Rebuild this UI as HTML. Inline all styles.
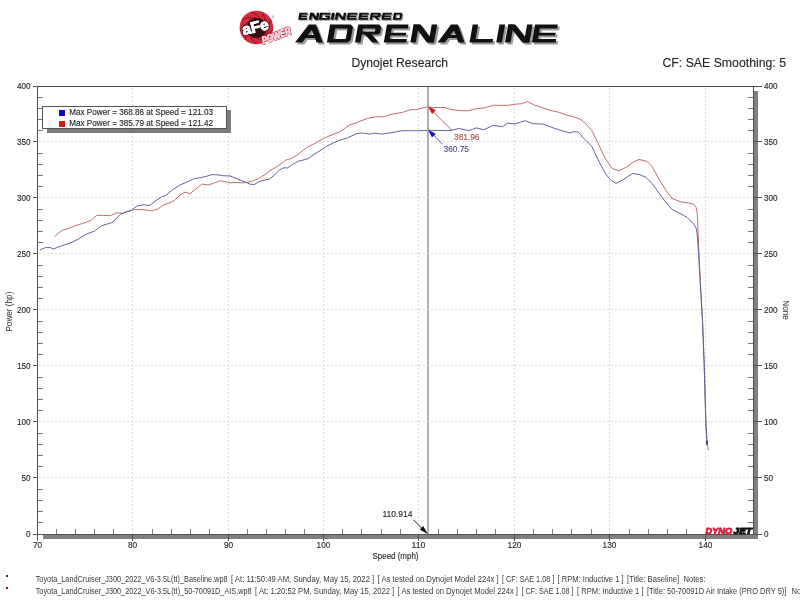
<!DOCTYPE html>
<html><head><meta charset="utf-8"><style>
html,body{margin:0;padding:0;background:#fff;width:800px;height:600px;overflow:hidden}
svg{display:block;font-family:"Liberation Sans", sans-serif;will-change:transform}
</style></head><body>
<svg width="800" height="600" viewBox="0 0 800 600" shape-rendering="crispEdges">
<rect width="800" height="600" fill="#fff"/>
<line x1="38" y1="477.5" x2="753" y2="477.5" stroke="#dadada" stroke-dasharray="2,2" stroke-dashoffset="3"/>
<line x1="38" y1="421.5" x2="753" y2="421.5" stroke="#dadada" stroke-dasharray="2,2" stroke-dashoffset="3"/>
<line x1="38" y1="365.5" x2="753" y2="365.5" stroke="#dadada" stroke-dasharray="2,2" stroke-dashoffset="3"/>
<line x1="38" y1="309.5" x2="753" y2="309.5" stroke="#dadada" stroke-dasharray="2,2" stroke-dashoffset="3"/>
<line x1="38" y1="253.5" x2="753" y2="253.5" stroke="#dadada" stroke-dasharray="2,2" stroke-dashoffset="3"/>
<line x1="38" y1="197.5" x2="753" y2="197.5" stroke="#dadada" stroke-dasharray="2,2" stroke-dashoffset="3"/>
<line x1="38" y1="141.5" x2="753" y2="141.5" stroke="#dadada" stroke-dasharray="2,2" stroke-dashoffset="3"/>
<line x1="132.5" y1="87" x2="132.5" y2="534" stroke="#dadada" stroke-dasharray="2,2" stroke-dashoffset="3"/>
<line x1="228.5" y1="87" x2="228.5" y2="534" stroke="#dadada" stroke-dasharray="2,2" stroke-dashoffset="3"/>
<line x1="323.5" y1="87" x2="323.5" y2="534" stroke="#dadada" stroke-dasharray="2,2" stroke-dashoffset="3"/>
<line x1="418.5" y1="87" x2="418.5" y2="534" stroke="#dadada" stroke-dasharray="2,2" stroke-dashoffset="3"/>
<line x1="514.5" y1="87" x2="514.5" y2="534" stroke="#dadada" stroke-dasharray="2,2" stroke-dashoffset="3"/>
<line x1="609.5" y1="87" x2="609.5" y2="534" stroke="#dadada" stroke-dasharray="2,2" stroke-dashoffset="3"/>
<line x1="705.5" y1="87" x2="705.5" y2="534" stroke="#dadada" stroke-dasharray="2,2" stroke-dashoffset="3"/>
<rect x="754" y="91" width="4" height="448" fill="#808080"/>
<rect x="43" y="535" width="715" height="4" fill="#808080"/>
<rect x="33" y="86" width="729" height="1" fill="#525252"/>
<rect x="33" y="534" width="729" height="1" fill="#525252"/>
<rect x="37" y="86" width="1" height="455" fill="#525252"/>
<rect x="753" y="86" width="1" height="449" fill="#525252"/>
<rect x="38" y="522" width="5" height="1" fill="#747474"/>
<rect x="748" y="522" width="5" height="1" fill="#747474"/>
<rect x="38" y="511" width="5" height="1" fill="#747474"/>
<rect x="748" y="511" width="5" height="1" fill="#747474"/>
<rect x="38" y="500" width="5" height="1" fill="#747474"/>
<rect x="748" y="500" width="5" height="1" fill="#747474"/>
<rect x="38" y="489" width="5" height="1" fill="#747474"/>
<rect x="748" y="489" width="5" height="1" fill="#747474"/>
<rect x="33" y="477" width="4" height="1" fill="#525252"/>
<rect x="754" y="477" width="8" height="1" fill="#525252"/>
<rect x="38" y="466" width="5" height="1" fill="#747474"/>
<rect x="748" y="466" width="5" height="1" fill="#747474"/>
<rect x="38" y="455" width="5" height="1" fill="#747474"/>
<rect x="748" y="455" width="5" height="1" fill="#747474"/>
<rect x="38" y="444" width="5" height="1" fill="#747474"/>
<rect x="748" y="444" width="5" height="1" fill="#747474"/>
<rect x="38" y="433" width="5" height="1" fill="#747474"/>
<rect x="748" y="433" width="5" height="1" fill="#747474"/>
<rect x="33" y="421" width="4" height="1" fill="#525252"/>
<rect x="754" y="421" width="8" height="1" fill="#525252"/>
<rect x="38" y="410" width="5" height="1" fill="#747474"/>
<rect x="748" y="410" width="5" height="1" fill="#747474"/>
<rect x="38" y="399" width="5" height="1" fill="#747474"/>
<rect x="748" y="399" width="5" height="1" fill="#747474"/>
<rect x="38" y="388" width="5" height="1" fill="#747474"/>
<rect x="748" y="388" width="5" height="1" fill="#747474"/>
<rect x="38" y="377" width="5" height="1" fill="#747474"/>
<rect x="748" y="377" width="5" height="1" fill="#747474"/>
<rect x="33" y="365" width="4" height="1" fill="#525252"/>
<rect x="754" y="365" width="8" height="1" fill="#525252"/>
<rect x="38" y="354" width="5" height="1" fill="#747474"/>
<rect x="748" y="354" width="5" height="1" fill="#747474"/>
<rect x="38" y="343" width="5" height="1" fill="#747474"/>
<rect x="748" y="343" width="5" height="1" fill="#747474"/>
<rect x="38" y="332" width="5" height="1" fill="#747474"/>
<rect x="748" y="332" width="5" height="1" fill="#747474"/>
<rect x="38" y="321" width="5" height="1" fill="#747474"/>
<rect x="748" y="321" width="5" height="1" fill="#747474"/>
<rect x="33" y="309" width="4" height="1" fill="#525252"/>
<rect x="754" y="309" width="8" height="1" fill="#525252"/>
<rect x="38" y="298" width="5" height="1" fill="#747474"/>
<rect x="748" y="298" width="5" height="1" fill="#747474"/>
<rect x="38" y="287" width="5" height="1" fill="#747474"/>
<rect x="748" y="287" width="5" height="1" fill="#747474"/>
<rect x="38" y="276" width="5" height="1" fill="#747474"/>
<rect x="748" y="276" width="5" height="1" fill="#747474"/>
<rect x="38" y="265" width="5" height="1" fill="#747474"/>
<rect x="748" y="265" width="5" height="1" fill="#747474"/>
<rect x="33" y="253" width="4" height="1" fill="#525252"/>
<rect x="754" y="253" width="8" height="1" fill="#525252"/>
<rect x="38" y="242" width="5" height="1" fill="#747474"/>
<rect x="748" y="242" width="5" height="1" fill="#747474"/>
<rect x="38" y="231" width="5" height="1" fill="#747474"/>
<rect x="748" y="231" width="5" height="1" fill="#747474"/>
<rect x="38" y="220" width="5" height="1" fill="#747474"/>
<rect x="748" y="220" width="5" height="1" fill="#747474"/>
<rect x="38" y="209" width="5" height="1" fill="#747474"/>
<rect x="748" y="209" width="5" height="1" fill="#747474"/>
<rect x="33" y="197" width="4" height="1" fill="#525252"/>
<rect x="754" y="197" width="8" height="1" fill="#525252"/>
<rect x="38" y="186" width="5" height="1" fill="#747474"/>
<rect x="748" y="186" width="5" height="1" fill="#747474"/>
<rect x="38" y="175" width="5" height="1" fill="#747474"/>
<rect x="748" y="175" width="5" height="1" fill="#747474"/>
<rect x="38" y="164" width="5" height="1" fill="#747474"/>
<rect x="748" y="164" width="5" height="1" fill="#747474"/>
<rect x="38" y="153" width="5" height="1" fill="#747474"/>
<rect x="748" y="153" width="5" height="1" fill="#747474"/>
<rect x="33" y="141" width="4" height="1" fill="#525252"/>
<rect x="754" y="141" width="8" height="1" fill="#525252"/>
<rect x="38" y="130" width="5" height="1" fill="#747474"/>
<rect x="748" y="130" width="5" height="1" fill="#747474"/>
<rect x="38" y="119" width="5" height="1" fill="#747474"/>
<rect x="748" y="119" width="5" height="1" fill="#747474"/>
<rect x="38" y="108" width="5" height="1" fill="#747474"/>
<rect x="748" y="108" width="5" height="1" fill="#747474"/>
<rect x="38" y="97" width="5" height="1" fill="#747474"/>
<rect x="748" y="97" width="5" height="1" fill="#747474"/>
<rect x="56" y="529" width="1" height="5" fill="#747474"/>
<rect x="75" y="529" width="1" height="5" fill="#747474"/>
<rect x="94" y="529" width="1" height="5" fill="#747474"/>
<rect x="113" y="529" width="1" height="5" fill="#747474"/>
<rect x="132" y="535" width="1" height="6" fill="#525252"/>
<rect x="152" y="529" width="1" height="5" fill="#747474"/>
<rect x="171" y="529" width="1" height="5" fill="#747474"/>
<rect x="190" y="529" width="1" height="5" fill="#747474"/>
<rect x="209" y="529" width="1" height="5" fill="#747474"/>
<rect x="228" y="535" width="1" height="6" fill="#525252"/>
<rect x="247" y="529" width="1" height="5" fill="#747474"/>
<rect x="266" y="529" width="1" height="5" fill="#747474"/>
<rect x="285" y="529" width="1" height="5" fill="#747474"/>
<rect x="304" y="529" width="1" height="5" fill="#747474"/>
<rect x="323" y="535" width="1" height="6" fill="#525252"/>
<rect x="342" y="529" width="1" height="5" fill="#747474"/>
<rect x="361" y="529" width="1" height="5" fill="#747474"/>
<rect x="381" y="529" width="1" height="5" fill="#747474"/>
<rect x="400" y="529" width="1" height="5" fill="#747474"/>
<rect x="418" y="535" width="1" height="6" fill="#525252"/>
<rect x="438" y="529" width="1" height="5" fill="#747474"/>
<rect x="457" y="529" width="1" height="5" fill="#747474"/>
<rect x="476" y="529" width="1" height="5" fill="#747474"/>
<rect x="495" y="529" width="1" height="5" fill="#747474"/>
<rect x="514" y="535" width="1" height="6" fill="#525252"/>
<rect x="533" y="529" width="1" height="5" fill="#747474"/>
<rect x="552" y="529" width="1" height="5" fill="#747474"/>
<rect x="571" y="529" width="1" height="5" fill="#747474"/>
<rect x="591" y="529" width="1" height="5" fill="#747474"/>
<rect x="609" y="535" width="1" height="6" fill="#525252"/>
<rect x="629" y="529" width="1" height="5" fill="#747474"/>
<rect x="648" y="529" width="1" height="5" fill="#747474"/>
<rect x="667" y="529" width="1" height="5" fill="#747474"/>
<rect x="686" y="529" width="1" height="5" fill="#747474"/>
<rect x="705" y="535" width="1" height="6" fill="#525252"/>
<rect x="724" y="529" width="1" height="5" fill="#747474"/>
<rect x="743" y="529" width="1" height="5" fill="#747474"/>
<text x="30.6" y="536.5" font-size="9" fill="#2a2a2a" stroke="#2a2a2a" stroke-width="0.15" text-anchor="end" textLength="4.5" lengthAdjust="spacingAndGlyphs" style="white-space:pre">0</text>
<text x="764.0" y="536.5" font-size="9" fill="#2a2a2a" stroke="#2a2a2a" stroke-width="0.15" textLength="4.5" lengthAdjust="spacingAndGlyphs" style="white-space:pre">0</text>
<text x="30.6" y="480.5" font-size="9" fill="#2a2a2a" stroke="#2a2a2a" stroke-width="0.15" text-anchor="end" textLength="9.1" lengthAdjust="spacingAndGlyphs" style="white-space:pre">50</text>
<text x="764.0" y="480.5" font-size="9" fill="#2a2a2a" stroke="#2a2a2a" stroke-width="0.15" textLength="9.1" lengthAdjust="spacingAndGlyphs" style="white-space:pre">50</text>
<text x="30.6" y="424.5" font-size="9" fill="#2a2a2a" stroke="#2a2a2a" stroke-width="0.15" text-anchor="end" textLength="13.6" lengthAdjust="spacingAndGlyphs" style="white-space:pre">100</text>
<text x="764.0" y="424.5" font-size="9" fill="#2a2a2a" stroke="#2a2a2a" stroke-width="0.15" textLength="13.6" lengthAdjust="spacingAndGlyphs" style="white-space:pre">100</text>
<text x="30.6" y="368.5" font-size="9" fill="#2a2a2a" stroke="#2a2a2a" stroke-width="0.15" text-anchor="end" textLength="13.6" lengthAdjust="spacingAndGlyphs" style="white-space:pre">150</text>
<text x="764.0" y="368.5" font-size="9" fill="#2a2a2a" stroke="#2a2a2a" stroke-width="0.15" textLength="13.6" lengthAdjust="spacingAndGlyphs" style="white-space:pre">150</text>
<text x="30.6" y="312.5" font-size="9" fill="#2a2a2a" stroke="#2a2a2a" stroke-width="0.15" text-anchor="end" textLength="13.6" lengthAdjust="spacingAndGlyphs" style="white-space:pre">200</text>
<text x="764.0" y="312.5" font-size="9" fill="#2a2a2a" stroke="#2a2a2a" stroke-width="0.15" textLength="13.6" lengthAdjust="spacingAndGlyphs" style="white-space:pre">200</text>
<text x="30.6" y="256.5" font-size="9" fill="#2a2a2a" stroke="#2a2a2a" stroke-width="0.15" text-anchor="end" textLength="13.6" lengthAdjust="spacingAndGlyphs" style="white-space:pre">250</text>
<text x="764.0" y="256.5" font-size="9" fill="#2a2a2a" stroke="#2a2a2a" stroke-width="0.15" textLength="13.6" lengthAdjust="spacingAndGlyphs" style="white-space:pre">250</text>
<text x="30.6" y="200.5" font-size="9" fill="#2a2a2a" stroke="#2a2a2a" stroke-width="0.15" text-anchor="end" textLength="13.6" lengthAdjust="spacingAndGlyphs" style="white-space:pre">300</text>
<text x="764.0" y="200.5" font-size="9" fill="#2a2a2a" stroke="#2a2a2a" stroke-width="0.15" textLength="13.6" lengthAdjust="spacingAndGlyphs" style="white-space:pre">300</text>
<text x="30.6" y="144.5" font-size="9" fill="#2a2a2a" stroke="#2a2a2a" stroke-width="0.15" text-anchor="end" textLength="13.6" lengthAdjust="spacingAndGlyphs" style="white-space:pre">350</text>
<text x="764.0" y="144.5" font-size="9" fill="#2a2a2a" stroke="#2a2a2a" stroke-width="0.15" textLength="13.6" lengthAdjust="spacingAndGlyphs" style="white-space:pre">350</text>
<text x="30.6" y="88.5" font-size="9" fill="#2a2a2a" stroke="#2a2a2a" stroke-width="0.15" text-anchor="end" textLength="13.6" lengthAdjust="spacingAndGlyphs" style="white-space:pre">400</text>
<text x="764.0" y="88.5" font-size="9" fill="#2a2a2a" stroke="#2a2a2a" stroke-width="0.15" textLength="13.6" lengthAdjust="spacingAndGlyphs" style="white-space:pre">400</text>
<text x="37.5" y="548.2" font-size="9" fill="#2a2a2a" stroke="#2a2a2a" stroke-width="0.15" text-anchor="middle" textLength="9.2" lengthAdjust="spacingAndGlyphs" style="white-space:pre">70</text>
<text x="132.5" y="548.2" font-size="9" fill="#2a2a2a" stroke="#2a2a2a" stroke-width="0.15" text-anchor="middle" textLength="9.2" lengthAdjust="spacingAndGlyphs" style="white-space:pre">80</text>
<text x="228.5" y="548.2" font-size="9" fill="#2a2a2a" stroke="#2a2a2a" stroke-width="0.15" text-anchor="middle" textLength="9.2" lengthAdjust="spacingAndGlyphs" style="white-space:pre">90</text>
<text x="323.5" y="548.2" font-size="9" fill="#2a2a2a" stroke="#2a2a2a" stroke-width="0.15" text-anchor="middle" textLength="13.8" lengthAdjust="spacingAndGlyphs" style="white-space:pre">100</text>
<text x="418.5" y="548.2" font-size="9" fill="#2a2a2a" stroke="#2a2a2a" stroke-width="0.15" text-anchor="middle" textLength="13.8" lengthAdjust="spacingAndGlyphs" style="white-space:pre">110</text>
<text x="514.5" y="548.2" font-size="9" fill="#2a2a2a" stroke="#2a2a2a" stroke-width="0.15" text-anchor="middle" textLength="13.8" lengthAdjust="spacingAndGlyphs" style="white-space:pre">120</text>
<text x="609.5" y="548.2" font-size="9" fill="#2a2a2a" stroke="#2a2a2a" stroke-width="0.15" text-anchor="middle" textLength="13.8" lengthAdjust="spacingAndGlyphs" style="white-space:pre">130</text>
<text x="705.5" y="548.2" font-size="9" fill="#2a2a2a" stroke="#2a2a2a" stroke-width="0.15" text-anchor="middle" textLength="13.8" lengthAdjust="spacingAndGlyphs" style="white-space:pre">140</text>
<text x="395.5" y="559.3" font-size="8.5" fill="#2a2a2a" stroke="#2a2a2a" stroke-width="0.15" text-anchor="middle" textLength="46.0" lengthAdjust="spacingAndGlyphs" style="white-space:pre">Speed (mph)</text>
<text transform="translate(11.8,311.6) rotate(-90)" text-anchor="middle" font-size="8.5" fill="#2a2a2a" textLength="40" lengthAdjust="spacingAndGlyphs">Power (hp)</text>
<text transform="translate(783.4,310) rotate(90)" text-anchor="middle" font-size="8.5" fill="#2a2a2a" textLength="19.5" lengthAdjust="spacingAndGlyphs">None</text>
<path d="M54.7,236.7 L58.3,233.4 L62.5,230.1 L66.7,229.1 L75.0,225.9 L85.0,222.6 L90.8,220.4 L96.7,215.4 L103.3,215.4 L110.0,215.7 L116.7,212.9 L122.5,213.1 L128.3,211.2 L132.5,210.1 L134.2,209.6 L143.3,209.6 L151.7,210.9 L157.5,209.1 L163.3,205.1 L168.3,203.4 L174.2,200.7 L180.0,195.1 L185.0,192.1 L190.0,193.7 L195.8,189.1 L201.7,184.1 L208.3,184.9 L213.3,183.4 L220.0,180.7 L225.0,181.7 L230.0,182.9 L235.0,182.4 L241.7,182.9 L247.5,182.4 L253.3,180.7 L258.3,178.7 L265.0,174.6 L270.0,170.7 L275.0,167.9 L280.0,164.6 L285.8,160.1 L291.7,158.4 L296.7,155.4 L302.5,150.7 L308.3,146.7 L315.0,143.4 L320.0,140.4 L325.8,137.4 L332.5,134.6 L341.7,130.9 L350.0,124.6 L355.0,123.4 L360.0,121.2 L367.5,118.4 L376.7,116.7 L384.2,116.7 L390.0,114.6 L396.7,113.4 L403.3,112.1 L410.8,109.6 L416.7,109.6 L427.5,106.9 L432.5,107.5 L445.0,107.5 L450.0,109.4 L461.2,110.7 L468.8,110.7 L475.0,108.9 L483.8,107.9 L493.8,105.2 L500.0,105.4 L507.5,105.4 L515.0,104.2 L521.7,103.7 L527.5,101.7 L535.0,105.4 L543.3,107.9 L550.0,110.4 L558.3,112.1 L566.7,115.1 L573.3,116.7 L580.0,119.1 L585.0,122.9 L591.7,130.4 L598.3,143.7 L603.3,154.6 L606.0,159.4 L612.0,168.4 L619.0,170.8 L626.0,167.4 L633.0,162.4 L639.0,159.4 L647.0,161.4 L652.0,166.4 L658.0,177.4 L666.0,190.4 L672.0,198.4 L680.0,201.6 L689.3,203.2 L694.0,204.4 L696.4,207.9 L697.5,216.1 L698.7,248.8 L701.0,295.4 L702.5,320.4 L704.2,364.8 L705.8,420.9 L707.0,441.9 L708.4,450.3" fill="none" stroke="#b86868" stroke-width="0.95" shape-rendering="auto"/>
<path d="M40.0,250.2 L41.9,249.0 L45.6,247.6 L50.6,247.6 L53.1,249.0 L56.9,247.6 L61.9,245.7 L67.5,244.0 L72.5,242.0 L78.8,238.8 L84.4,235.4 L88.3,233.4 L94.2,231.2 L97.5,228.7 L101.7,225.7 L106.7,224.2 L112.5,222.4 L116.7,217.9 L120.8,214.2 L125.0,212.4 L131.7,210.4 L133.3,208.7 L137.5,205.7 L140.8,205.4 L144.2,204.6 L146.7,205.4 L150.0,205.4 L155.0,201.2 L161.7,196.7 L165.8,195.4 L171.7,190.4 L179.2,185.4 L186.7,182.1 L194.2,178.7 L201.7,177.4 L206.7,176.2 L211.7,174.6 L218.3,174.9 L222.5,175.7 L230.0,175.9 L235.0,177.9 L241.7,180.7 L250.0,184.1 L254.2,184.6 L260.0,181.2 L265.0,180.1 L269.2,179.1 L274.2,175.4 L279.2,170.1 L283.3,167.9 L287.5,167.9 L293.3,164.1 L298.3,161.2 L305.0,159.6 L308.3,158.4 L315.0,153.7 L320.0,150.7 L326.7,146.2 L335.0,142.1 L341.7,139.6 L347.5,137.9 L356.7,133.7 L361.7,132.9 L370.0,134.1 L375.0,133.1 L381.7,134.1 L388.3,133.2 L395.0,132.1 L401.7,130.7 L408.3,130.7 L420.0,130.7 L427.5,130.4 L437.5,130.4 L450.0,130.7 L458.8,128.5 L468.8,130.7 L476.2,127.9 L483.8,129.8 L493.1,125.4 L502.5,126.7 L507.5,123.2 L515.0,123.9 L525.0,120.7 L533.3,123.7 L543.3,124.1 L553.3,127.9 L563.3,131.2 L570.0,132.9 L573.3,131.7 L578.3,132.1 L583.3,137.9 L591.7,146.2 L600.0,163.7 L606.0,174.4 L611.0,180.4 L616.0,183.4 L622.0,180.4 L628.0,176.4 L633.0,173.4 L640.0,174.8 L646.0,177.4 L652.0,183.4 L660.0,194.4 L666.0,202.4 L672.0,209.4 L680.0,213.4 L687.0,217.3 L694.0,224.3 L696.4,228.9 L697.5,237.1 L698.7,255.8 L701.0,295.4 L702.5,320.4 L704.2,364.8 L705.8,420.9 L707.1,444.7" fill="none" stroke="#5a5a98" stroke-width="0.95" shape-rendering="auto"/>
<ellipse cx="706.9" cy="442.8" rx="0.9" ry="2.2" fill="#3a3a90" shape-rendering="auto"/>
<rect x="427" y="87" width="2" height="447" fill="#b0b0b0"/>
<line x1="452" y1="130.3" x2="433" y2="111.5" stroke="#b86868" stroke-width="1" shape-rendering="auto"/>
<path d="M428,106.2 L435.8,110.3 L432,114 Z" fill="#d41414" shape-rendering="auto"/>
<line x1="442.5" y1="144.2" x2="433" y2="134.5" stroke="#5a5a98" stroke-width="1" shape-rendering="auto"/>
<path d="M428,129.8 L435.8,133.8 L432,137.5 Z" fill="#1414c8" shape-rendering="auto"/>
<text x="454.0" y="139.5" font-size="8.5" fill="#b05050" stroke="#b05050" stroke-width="0.15" textLength="25.5" lengthAdjust="spacingAndGlyphs" style="white-space:pre">381.96</text>
<text x="443.5" y="152.0" font-size="8.5" fill="#505090" stroke="#505090" stroke-width="0.15" textLength="25.5" lengthAdjust="spacingAndGlyphs" style="white-space:pre">360.75</text>
<text x="382.5" y="517.0" font-size="8.5" fill="#2a2a2a" stroke="#2a2a2a" stroke-width="0.15" textLength="30.0" lengthAdjust="spacingAndGlyphs" style="white-space:pre">110.914</text>
<line x1="413.5" y1="519.8" x2="422" y2="528.5" stroke="#222" stroke-width="1" shape-rendering="auto"/>
<path d="M428,534.2 L419.8,529.6 L423.2,526 Z" fill="#111" shape-rendering="auto"/>
<rect x="47" y="110" width="184" height="23" fill="#7a7a7a"/>
<rect x="42.5" y="106.5" width="184" height="22" fill="#fff" stroke="#555"/>
<rect x="59" y="110" width="6" height="6" fill="#0a0ac8"/>
<rect x="59" y="121" width="6" height="6" fill="#d01818"/>
<text x="69.2" y="114.9" font-size="8.5" fill="#2a2a2a" stroke="#2a2a2a" stroke-width="0.15" textLength="143.8" lengthAdjust="spacingAndGlyphs" style="white-space:pre">Max Power = 368.86 at Speed = 121.03</text>
<text x="69.2" y="125.9" font-size="8.5" fill="#2a2a2a" stroke="#2a2a2a" stroke-width="0.15" textLength="143.8" lengthAdjust="spacingAndGlyphs" style="white-space:pre">Max Power = 385.79 at Speed = 121.42</text>
<text x="705.6" y="533.6" font-size="9.4" font-weight="bold" font-style="italic" fill="#d42a40" stroke="#d42a40" stroke-width="1.0" stroke-linejoin="round" textLength="26.4" lengthAdjust="spacingAndGlyphs" shape-rendering="auto">DYNO</text>
<text x="733.6" y="533.6" font-size="9.4" font-weight="bold" font-style="italic" fill="#111" stroke="#111" stroke-width="1.1" stroke-linejoin="round" textLength="18.4" lengthAdjust="spacingAndGlyphs" shape-rendering="auto">JET</text>
<text x="351.5" y="66.6" font-size="12.5" fill="#222" stroke="#222" stroke-width="0.1" textLength="96.5" lengthAdjust="spacingAndGlyphs" style="white-space:pre">Dynojet Research</text>
<text x="662.5" y="67.1" font-size="12.5" fill="#222" stroke="#222" stroke-width="0.1" textLength="123.5" lengthAdjust="spacingAndGlyphs" style="white-space:pre">CF: SAE Smoothing: 5</text>
<rect x="6" y="574.5" width="2" height="2" fill="#202080"/>
<rect x="6" y="586.5" width="2" height="2" fill="#802020"/>
<text x="35.7" y="582.3" font-size="8.5" fill="#383838" stroke="#383838" stroke-width="0" textLength="191.9" lengthAdjust="spacingAndGlyphs" style="white-space:pre">Toyota_LandCruiser_J300_2022_V6-3.5L(tt)_Baseline.wp8</text>
<text x="231.0" y="582.3" font-size="8.5" fill="#383838" stroke="#383838" stroke-width="0" textLength="143.2" lengthAdjust="spacingAndGlyphs" style="white-space:pre">[ At: 11:50:49 AM, Sunday, May 15, 2022 ]</text>
<text x="377.6" y="582.3" font-size="8.5" fill="#383838" stroke="#383838" stroke-width="0" textLength="121.0" lengthAdjust="spacingAndGlyphs" style="white-space:pre">[ As tested on Dynojet Model 224x ]</text>
<text x="502.0" y="582.3" font-size="8.5" fill="#383838" stroke="#383838" stroke-width="0" textLength="52.2" lengthAdjust="spacingAndGlyphs" style="white-space:pre">[ CF: SAE 1.08 ]</text>
<text x="557.6" y="582.3" font-size="8.5" fill="#383838" stroke="#383838" stroke-width="0" textLength="66.0" lengthAdjust="spacingAndGlyphs" style="white-space:pre">[ RPM: Inductive 1 ]</text>
<text x="627.0" y="582.3" font-size="8.5" fill="#383838" stroke="#383838" stroke-width="0" textLength="52.1" lengthAdjust="spacingAndGlyphs" style="white-space:pre">[Title: Baseline]</text>
<text x="683.5" y="582.3" font-size="8.5" fill="#383838" stroke="#383838" stroke-width="0" textLength="21.9" lengthAdjust="spacingAndGlyphs" style="white-space:pre">Notes:</text>
<text x="35.7" y="593.5" font-size="8.5" fill="#383838" stroke="#383838" stroke-width="0" textLength="216.0" lengthAdjust="spacingAndGlyphs" style="white-space:pre">Toyota_LandCruiser_J300_2022_V6-3.5L(tt)_50-70091D_AIS.wp8</text>
<text x="255.1" y="593.5" font-size="8.5" fill="#383838" stroke="#383838" stroke-width="0" textLength="139.1" lengthAdjust="spacingAndGlyphs" style="white-space:pre">[ At: 1:20:52 PM, Sunday, May 15, 2022 ]</text>
<text x="397.6" y="593.5" font-size="8.5" fill="#383838" stroke="#383838" stroke-width="0" textLength="120.4" lengthAdjust="spacingAndGlyphs" style="white-space:pre">[ As tested on Dynojet Model 224x ]</text>
<text x="521.4" y="593.5" font-size="8.5" fill="#383838" stroke="#383838" stroke-width="0" textLength="52.2" lengthAdjust="spacingAndGlyphs" style="white-space:pre">[ CF: SAE 1.08 ]</text>
<text x="577.0" y="593.5" font-size="8.5" fill="#383838" stroke="#383838" stroke-width="0" textLength="66.6" lengthAdjust="spacingAndGlyphs" style="white-space:pre">[ RPM: Inductive 1 ]</text>
<text x="647.0" y="593.5" font-size="8.5" fill="#383838" stroke="#383838" stroke-width="0" textLength="139.4" lengthAdjust="spacingAndGlyphs" style="white-space:pre">[Title: 50-70091D Air Intake (PRO DRY 5)]</text>
<text x="791.5" y="593.5" font-size="8.5" fill="#383838" stroke="#383838" stroke-width="0" textLength="21.9" lengthAdjust="spacingAndGlyphs" style="white-space:pre">Notes:</text>
<defs><filter id="lsh" x="-5%" y="-20%" width="110%" height="140%"><feGaussianBlur stdDeviation="0.7"/></filter></defs>
<g fill="#9a9a9a" transform="translate(2.0,2.0)" filter="url(#lsh)" shape-rendering="auto"><path d="M295.00,42.40 L308.77,24.60 L316.00,24.60 L322.80,42.40ZM308.02,35.00 L313.77,35.00 L311.87,30.03ZM305.63,38.10 L314.96,38.10 L316.62,42.42 L302.28,42.42Z" fill-rule="evenodd"/><path d="M330.10,24.60 L350.90,24.60 L352.95,27.10 L350.65,39.90 L347.70,42.40 L326.90,42.40ZM335.20,28.50 L347.60,28.50 L345.73,38.90 L333.33,38.90Z" fill-rule="evenodd"/><path d="M358.20,24.60 L379.17,24.60 L381.22,27.10 L380.14,33.10 L378.37,34.60 L361.90,34.60 L360.50,42.40 L355.00,42.40ZM363.00,28.50 L375.47,28.50 L374.93,31.50 L362.46,31.50Z" fill-rule="evenodd"/><path d="M364.49,34.00 L371.36,34.00 L378.70,42.40 L372.17,42.40Z" fill-rule="evenodd"/><path d="M386.95,24.60 L408.55,24.60 L407.85,28.50 L391.75,28.50 L391.00,32.70 L406.42,32.70 L405.90,35.60 L390.47,35.60 L389.88,38.90 L406.88,38.90 L406.25,42.40 L383.75,42.40Z" fill-rule="evenodd"/><path d="M413.50,24.60 L419.00,24.60 L415.80,42.40 L410.30,42.40Z" fill-rule="evenodd"/><path d="M431.70,24.60 L437.20,24.60 L434.00,42.40 L428.50,42.40Z" fill-rule="evenodd"/><path d="M413.50,24.60 L420.65,24.60 L434.00,42.40 L426.85,42.40Z" fill-rule="evenodd"/><path d="M437.60,42.40 L451.03,24.60 L458.02,24.60 L464.50,42.40ZM450.48,35.00 L455.61,35.00 L453.94,30.42ZM448.14,38.10 L456.73,38.10 L458.32,42.42 L444.88,42.42Z" fill-rule="evenodd"/><path d="M472.70,24.60 L478.20,24.60 L475.63,38.90 L493.13,38.90 L492.50,42.40 L469.50,42.40Z" fill-rule="evenodd"/><path d="M499.45,24.60 L505.10,24.60 L501.90,42.40 L496.25,42.40Z" fill-rule="evenodd"/><path d="M508.20,24.60 L513.70,24.60 L510.50,42.40 L505.00,42.40Z" fill-rule="evenodd"/><path d="M527.10,24.60 L532.60,24.60 L529.40,42.40 L523.90,42.40Z" fill-rule="evenodd"/><path d="M508.20,24.60 L515.35,24.60 L529.40,42.40 L522.25,42.40Z" fill-rule="evenodd"/><path d="M535.10,24.60 L557.86,24.60 L557.15,28.50 L539.90,28.50 L539.15,32.70 L555.69,32.70 L555.17,35.60 L538.62,35.60 L538.03,38.90 L556.23,38.90 L555.60,42.40 L531.90,42.40Z" fill-rule="evenodd"/></g>
<g fill="#111" shape-rendering="auto"><path d="M295.00,42.40 L308.77,24.60 L316.00,24.60 L322.80,42.40ZM308.02,35.00 L313.77,35.00 L311.87,30.03ZM305.63,38.10 L314.96,38.10 L316.62,42.42 L302.28,42.42Z" fill-rule="evenodd"/><path d="M330.10,24.60 L350.90,24.60 L352.95,27.10 L350.65,39.90 L347.70,42.40 L326.90,42.40ZM335.20,28.50 L347.60,28.50 L345.73,38.90 L333.33,38.90Z" fill-rule="evenodd"/><path d="M358.20,24.60 L379.17,24.60 L381.22,27.10 L380.14,33.10 L378.37,34.60 L361.90,34.60 L360.50,42.40 L355.00,42.40ZM363.00,28.50 L375.47,28.50 L374.93,31.50 L362.46,31.50Z" fill-rule="evenodd"/><path d="M364.49,34.00 L371.36,34.00 L378.70,42.40 L372.17,42.40Z" fill-rule="evenodd"/><path d="M386.95,24.60 L408.55,24.60 L407.85,28.50 L391.75,28.50 L391.00,32.70 L406.42,32.70 L405.90,35.60 L390.47,35.60 L389.88,38.90 L406.88,38.90 L406.25,42.40 L383.75,42.40Z" fill-rule="evenodd"/><path d="M413.50,24.60 L419.00,24.60 L415.80,42.40 L410.30,42.40Z" fill-rule="evenodd"/><path d="M431.70,24.60 L437.20,24.60 L434.00,42.40 L428.50,42.40Z" fill-rule="evenodd"/><path d="M413.50,24.60 L420.65,24.60 L434.00,42.40 L426.85,42.40Z" fill-rule="evenodd"/><path d="M437.60,42.40 L451.03,24.60 L458.02,24.60 L464.50,42.40ZM450.48,35.00 L455.61,35.00 L453.94,30.42ZM448.14,38.10 L456.73,38.10 L458.32,42.42 L444.88,42.42Z" fill-rule="evenodd"/><path d="M472.70,24.60 L478.20,24.60 L475.63,38.90 L493.13,38.90 L492.50,42.40 L469.50,42.40Z" fill-rule="evenodd"/><path d="M499.45,24.60 L505.10,24.60 L501.90,42.40 L496.25,42.40Z" fill-rule="evenodd"/><path d="M508.20,24.60 L513.70,24.60 L510.50,42.40 L505.00,42.40Z" fill-rule="evenodd"/><path d="M527.10,24.60 L532.60,24.60 L529.40,42.40 L523.90,42.40Z" fill-rule="evenodd"/><path d="M508.20,24.60 L515.35,24.60 L529.40,42.40 L522.25,42.40Z" fill-rule="evenodd"/><path d="M535.10,24.60 L557.86,24.60 L557.15,28.50 L539.90,28.50 L539.15,32.70 L555.69,32.70 L555.17,35.60 L538.62,35.60 L538.03,38.90 L556.23,38.90 L555.60,42.40 L531.90,42.40Z" fill-rule="evenodd"/></g>
<g fill="#9a9a9a" transform="translate(1.2,1.2)" filter="url(#lsh)" shape-rendering="auto"><path d="M299.47,12.80 L307.73,12.80 L307.41,14.40 L301.65,14.40 L301.45,15.40 L306.95,15.40 L306.62,17.05 L301.12,17.05 L300.92,18.05 L307.02,18.05 L306.70,19.65 L298.10,19.65Z" fill-rule="evenodd"/><path d="M310.12,12.80 L312.62,12.80 L311.25,19.65 L308.75,19.65Z" fill-rule="evenodd"/><path d="M316.87,12.80 L319.37,12.80 L318.00,19.65 L315.50,19.65Z" fill-rule="evenodd"/><path d="M310.12,12.80 L313.37,12.80 L318.00,19.65 L314.75,19.65Z" fill-rule="evenodd"/><path d="M320.07,12.80 L330.67,12.80 L330.35,14.40 L322.25,14.40 L321.52,18.05 L327.12,18.05 L327.32,17.05 L325.05,17.05 L325.38,15.40 L330.15,15.40 L329.30,19.65 L318.70,19.65Z" fill-rule="evenodd"/><path d="M332.07,12.80 L334.77,12.80 L333.40,19.65 L330.70,19.65Z" fill-rule="evenodd"/><path d="M336.17,12.80 L338.67,12.80 L337.30,19.65 L334.80,19.65Z" fill-rule="evenodd"/><path d="M343.77,12.80 L346.27,12.80 L344.90,19.65 L342.40,19.65Z" fill-rule="evenodd"/><path d="M336.17,12.80 L339.42,12.80 L344.90,19.65 L341.65,19.65Z" fill-rule="evenodd"/><path d="M347.87,12.80 L357.47,12.80 L357.15,14.40 L350.05,14.40 L349.85,15.40 L356.65,15.40 L356.32,17.05 L349.52,17.05 L349.32,18.05 L356.82,18.05 L356.50,19.65 L346.50,19.65Z" fill-rule="evenodd"/><path d="M359.47,12.80 L368.88,12.80 L368.56,14.40 L361.65,14.40 L361.45,15.40 L368.06,15.40 L367.73,17.05 L361.12,17.05 L360.92,18.05 L368.22,18.05 L367.90,19.65 L358.10,19.65Z" fill-rule="evenodd"/><path d="M370.87,12.80 L380.07,12.80 L380.87,13.80 L380.34,16.45 L379.62,17.05 L372.52,17.05 L372.00,19.65 L369.50,19.65ZM373.05,14.40 L378.25,14.40 L378.05,15.40 L372.85,15.40Z" fill-rule="evenodd"/><path d="M373.76,16.45 L376.89,16.45 L379.80,19.65 L376.83,19.65Z" fill-rule="evenodd"/><path d="M382.67,12.80 L391.89,12.80 L391.57,14.40 L384.85,14.40 L384.65,15.40 L391.08,15.40 L390.75,17.05 L384.32,17.05 L384.12,18.05 L391.22,18.05 L390.90,19.65 L381.30,19.65Z" fill-rule="evenodd"/><path d="M393.97,12.80 L401.57,12.80 L402.37,13.80 L401.40,18.65 L400.20,19.65 L392.60,19.65ZM396.15,14.40 L400.05,14.40 L399.32,18.05 L395.42,18.05Z" fill-rule="evenodd"/></g>
<g fill="#111" shape-rendering="auto"><path d="M299.47,12.80 L307.73,12.80 L307.41,14.40 L301.65,14.40 L301.45,15.40 L306.95,15.40 L306.62,17.05 L301.12,17.05 L300.92,18.05 L307.02,18.05 L306.70,19.65 L298.10,19.65Z" fill-rule="evenodd"/><path d="M310.12,12.80 L312.62,12.80 L311.25,19.65 L308.75,19.65Z" fill-rule="evenodd"/><path d="M316.87,12.80 L319.37,12.80 L318.00,19.65 L315.50,19.65Z" fill-rule="evenodd"/><path d="M310.12,12.80 L313.37,12.80 L318.00,19.65 L314.75,19.65Z" fill-rule="evenodd"/><path d="M320.07,12.80 L330.67,12.80 L330.35,14.40 L322.25,14.40 L321.52,18.05 L327.12,18.05 L327.32,17.05 L325.05,17.05 L325.38,15.40 L330.15,15.40 L329.30,19.65 L318.70,19.65Z" fill-rule="evenodd"/><path d="M332.07,12.80 L334.77,12.80 L333.40,19.65 L330.70,19.65Z" fill-rule="evenodd"/><path d="M336.17,12.80 L338.67,12.80 L337.30,19.65 L334.80,19.65Z" fill-rule="evenodd"/><path d="M343.77,12.80 L346.27,12.80 L344.90,19.65 L342.40,19.65Z" fill-rule="evenodd"/><path d="M336.17,12.80 L339.42,12.80 L344.90,19.65 L341.65,19.65Z" fill-rule="evenodd"/><path d="M347.87,12.80 L357.47,12.80 L357.15,14.40 L350.05,14.40 L349.85,15.40 L356.65,15.40 L356.32,17.05 L349.52,17.05 L349.32,18.05 L356.82,18.05 L356.50,19.65 L346.50,19.65Z" fill-rule="evenodd"/><path d="M359.47,12.80 L368.88,12.80 L368.56,14.40 L361.65,14.40 L361.45,15.40 L368.06,15.40 L367.73,17.05 L361.12,17.05 L360.92,18.05 L368.22,18.05 L367.90,19.65 L358.10,19.65Z" fill-rule="evenodd"/><path d="M370.87,12.80 L380.07,12.80 L380.87,13.80 L380.34,16.45 L379.62,17.05 L372.52,17.05 L372.00,19.65 L369.50,19.65ZM373.05,14.40 L378.25,14.40 L378.05,15.40 L372.85,15.40Z" fill-rule="evenodd"/><path d="M373.76,16.45 L376.89,16.45 L379.80,19.65 L376.83,19.65Z" fill-rule="evenodd"/><path d="M382.67,12.80 L391.89,12.80 L391.57,14.40 L384.85,14.40 L384.65,15.40 L391.08,15.40 L390.75,17.05 L384.32,17.05 L384.12,18.05 L391.22,18.05 L390.90,19.65 L381.30,19.65Z" fill-rule="evenodd"/><path d="M393.97,12.80 L401.57,12.80 L402.37,13.80 L401.40,18.65 L400.20,19.65 L392.60,19.65ZM396.15,14.40 L400.05,14.40 L399.32,18.05 L395.42,18.05Z" fill-rule="evenodd"/></g>

<g shape-rendering="auto">
 <circle cx="256.4" cy="27.5" r="16.8" fill="#d42a3c"/>
 <g stroke="#7a1020" stroke-width="0.9" fill="none"><path d="M272.6,30.4 Q268.5,34.5 260.4,36.1"/><path d="M267.0,40.1 Q261.2,40.7 253.9,36.7"/><path d="M256.4,44.0 Q251.6,40.7 248.6,32.9"/><path d="M245.8,40.1 Q244.3,34.5 246.9,26.7"/><path d="M240.2,30.4 Q242.6,25.1 249.7,20.8"/><path d="M242.1,19.2 Q247.4,16.8 255.6,18.0"/><path d="M250.8,12.0 Q256.4,13.5 261.8,19.7"/><path d="M262.0,12.0 Q265.4,16.8 265.6,25.0"/><path d="M270.7,19.2 Q270.2,25.1 265.0,31.5"/></g>
 <polygon points="260.8,37.5 253.7,38.1 247.8,34.0 245.9,27.1 249.0,20.6 255.5,17.5 262.4,19.4 266.5,25.3 265.9,32.4" fill="#3a0c14"/>
 <g transform="rotate(-14 243 34)">
 <text x="243.2" y="35.4" font-size="15.5" font-weight="bold" fill="#fff" stroke="#1a0a0c" stroke-width="2.2" paint-order="stroke" textLength="27" lengthAdjust="spacingAndGlyphs">aFe</text>
 <text x="243.2" y="35.4" font-size="15.5" font-weight="bold" fill="#fff" stroke="#fff" stroke-width="0.9" textLength="27" lengthAdjust="spacingAndGlyphs">aFe</text>
 </g>
 <circle cx="273.2" cy="16.6" r="0.9" fill="none" stroke="#777" stroke-width="0.5"/>
 <g transform="rotate(-20 276 37)">
  <text x="261.5" y="39.4" font-size="10.5" font-weight="bold" font-style="italic" fill="#fbd4de" stroke="#b0223a" stroke-width="1.9" stroke-linejoin="round" paint-order="stroke" textLength="30.5" lengthAdjust="spacingAndGlyphs">POWER</text>
  <text x="261.5" y="39.4" font-size="10.5" font-weight="bold" font-style="italic" fill="#fbd4de" stroke="#fbd4de" stroke-width="0.5" textLength="30.5" lengthAdjust="spacingAndGlyphs">POWER</text>
 </g>
</g>

</svg>
</body></html>
